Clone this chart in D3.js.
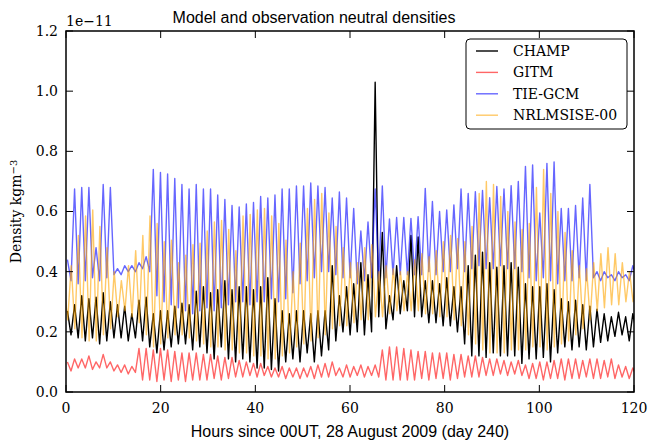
<!DOCTYPE html>
<meta charset="utf-8">
<style>
body {
    margin: 0;
    background: #fff;
}
.frame {
    fill: none;
    stroke: #000;
    stroke-width: 1.5px;
}
.tick-mark {
    stroke: #000;
    stroke-width: 1px;
}
.tick-label {
    font-family: "DejaVu Serif", serif;
    font-size: 14px;
    fill: #000;
}
.sans {
    font-family: "Liberation Sans", Arial, sans-serif;
    font-size: 16px;
    fill: #000;
}
.series {
    fill: none;
    stroke-width: 1.4px;
    stroke-linejoin: round;
}
</style>
<body>
<script src="https://d3js.org/d3.v7.min.js"></script>
<script>
const width = 649;
const height = 443;

// orbit period of the sampling (hours)
const orbitPeriod = 1.512;

const xTicks = [0, 20, 40, 60, 80, 100, 120];
const yTicks = [0.0, 0.2, 0.4, 0.6, 0.8, 1.0, 1.2];

const seriesNames = ["CHAMP", "GITM", "TIE-GCM", "NRLMSISE-00"];
const seriesColors = ["#000000", "#ff0000", "#0000ff", "#ffa500"];
const seriesOpacity = [1, 0.6, 0.6, 0.6];
const seriesPhase = [0.3, 0.3, 0.3, -0.4];

// values in units of 1e-11 kg m^-3, one peak and one trough per orbit
const champPeaks = [
    0.27, 0.29, 0.32, 0.31, 0.315, 0.33, 0.30, 0.29, 0.285, 0.26, 0.305, 0.315, 0.26, 0.27, 0.27, 0.285,
    0.295, 0.29, 0.335, 0.35, 0.33, 0.34, 0.37, 0.34, 0.35, 0.35, 0.34, 0.35, 0.38, 0.31, 0.27, 0.26,
    0.27, 0.27, 0.26, 0.27, 0.27, 0.42, 0.32, 0.35, 0.36, 0.43, 0.39, 1.03, 0.53, 0.32, 0.42, 0.37,
    0.52, 0.515, 0.37, 0.37, 0.36, 0.38, 0.35, 0.35, 0.42, 0.455, 0.465, 0.43, 0.415, 0.42, 0.43, 0.415,
    0.36, 0.35, 0.35, 0.36, 0.34, 0.31, 0.30, 0.305, 0.29, 0.285, 0.275, 0.26, 0.25, 0.265, 0.25, 0.26, 0.25
];
const champTroughs = [
    0.19, 0.18, 0.17, 0.18, 0.16, 0.17, 0.18, 0.18, 0.17, 0.18, 0.17, 0.15,
    0.13, 0.14, 0.15, 0.16,
    0.16, 0.14, 0.15, 0.13, 0.11, 0.15, 0.11, 0.10, 0.11, 0.10, 0.08, 0.08, 0.075, 0.07, 0.10, 0.11,
    0.10, 0.13, 0.10, 0.12, 0.14, 0.17, 0.20, 0.19, 0.20, 0.19, 0.20, 0.25, 0.21, 0.24, 0.26, 0.27,
    0.25, 0.25, 0.23, 0.23, 0.22, 0.22, 0.20, 0.16, 0.12, 0.12, 0.115, 0.13, 0.12, 0.12, 0.12, 0.095,
    0.11, 0.11, 0.115, 0.10, 0.13, 0.15, 0.14, 0.15, 0.14, 0.15, 0.165, 0.17, 0.185, 0.19, 0.17, 0.20, 0.20
];

const gitmPeaks = [
    0.10, 0.11, 0.11, 0.12, 0.10, 0.125, 0.10, 0.09, 0.09, 0.085, 0.145, 0.145, 0.14, 0.145, 0.14, 0.135,
    0.13, 0.13, 0.13, 0.125, 0.125, 0.12, 0.115, 0.115, 0.105, 0.10, 0.095, 0.095, 0.085, 0.08, 0.085, 0.08,
    0.08, 0.08, 0.085, 0.09, 0.095, 0.10, 0.08, 0.09, 0.085, 0.09, 0.085, 0.09, 0.14, 0.15, 0.15, 0.145,
    0.14, 0.135, 0.135, 0.13, 0.13, 0.13, 0.125, 0.125, 0.12, 0.12, 0.115, 0.11, 0.11, 0.105, 0.10, 0.105,
    0.09, 0.095, 0.10, 0.10, 0.105, 0.11, 0.11, 0.11, 0.105, 0.11, 0.11, 0.105, 0.11, 0.09, 0.085, 0.08, 0.07
];
const gitmTroughs = [
    0.07, 0.08, 0.08, 0.075, 0.08, 0.08, 0.07, 0.065, 0.06, 0.065,
    0.04, 0.04, 0.035, 0.04, 0.035, 0.04, 0.035, 0.04, 0.04, 0.04, 0.045, 0.04, 0.045, 0.05, 0.05, 0.055, 0.05, 0.055,
    0.05, 0.05, 0.045, 0.05, 0.045, 0.05, 0.045, 0.05, 0.05, 0.055, 0.05, 0.05, 0.055, 0.05, 0.055, 0.05,
    0.04, 0.04, 0.04, 0.04, 0.04, 0.045, 0.04, 0.045, 0.045, 0.04, 0.045, 0.05, 0.05, 0.05, 0.055, 0.055, 0.06, 0.055, 0.06, 0.055,
    0.045, 0.045, 0.04, 0.045, 0.045, 0.04, 0.045, 0.045, 0.05, 0.045, 0.045, 0.05, 0.045, 0.05, 0.045, 0.05, 0.05
];

const tiegcmPeaks = [
    0.44, 0.675, 0.68, 0.68, 0.48, 0.69, 0.68, 0.41, 0.42, 0.42, 0.43, 0.45, 0.74, 0.73, 0.725, 0.71,
    0.69, 0.675, 0.69, 0.675, 0.675, 0.655, 0.64, 0.62, 0.615, 0.625, 0.63, 0.65, 0.645, 0.655, 0.675, 0.675,
    0.685, 0.685, 0.695, 0.685, 0.68, 0.645, 0.665, 0.645, 0.61, 0.535, 0.565, 0.675, 0.685, 0.575, 0.58, 0.58,
    0.577, 0.583, 0.677, 0.633, 0.60, 0.605, 0.622, 0.675, 0.66, 0.666, 0.67, 0.646, 0.683, 0.675, 0.686, 0.70,
    0.75, 0.755, 0.595, 0.76, 0.765, 0.61, 0.61, 0.62, 0.645, 0.69, 0.40, 0.40, 0.39, 0.40, 0.39, 0.42, 0.40
];
const tiegcmTroughs = [
    0.37, 0.36, 0.37, 0.38, 0.37, 0.38, 0.39,
    0.39, 0.40, 0.40, 0.41, 0.40,
    0.32, 0.30, 0.29, 0.28,
    0.27, 0.26, 0.27, 0.28, 0.27, 0.28, 0.29, 0.30, 0.30, 0.29, 0.30, 0.30, 0.31, 0.30, 0.31, 0.33,
    0.36, 0.37, 0.38, 0.40, 0.40, 0.39, 0.38, 0.38, 0.36, 0.37, 0.38, 0.37, 0.38, 0.39, 0.39, 0.39,
    0.39, 0.39, 0.40, 0.39, 0.40, 0.40, 0.41, 0.40, 0.41, 0.42, 0.41, 0.41, 0.42, 0.41, 0.41, 0.40,
    0.38, 0.37, 0.38, 0.37, 0.36, 0.37, 0.37, 0.38, 0.37, 0.38,
    0.37, 0.38, 0.37, 0.38, 0.37, 0.38, 0.37
];

const nrlmsisePeaks = [
    0.35, 0.42, 0.52, 0.585, 0.605, 0.55, 0.48, 0.40, 0.37, 0.42, 0.47, 0.52, 0.585, 0.56, 0.50, 0.505,
    0.43, 0.455, 0.49, 0.495, 0.535, 0.565, 0.57, 0.54, 0.47, 0.585, 0.59, 0.605, 0.61, 0.585, 0.56, 0.505,
    0.40, 0.495, 0.61, 0.64, 0.66, 0.595, 0.55, 0.48, 0.43, 0.43, 0.48, 0.49, 0.40, 0.42, 0.41, 0.40,
    0.40, 0.44, 0.46, 0.45, 0.47, 0.50, 0.52, 0.51, 0.50, 0.55, 0.66, 0.70, 0.69, 0.65, 0.60, 0.565,
    0.54, 0.56, 0.68, 0.74, 0.66, 0.60, 0.53, 0.47, 0.42, 0.41, 0.43, 0.46, 0.48, 0.46, 0.43, 0.40, 0.38
];
const nrlmsiseTroughs = [
    0.24, 0.21, 0.18, 0.17, 0.17, 0.19, 0.21,
    0.25, 0.27, 0.25, 0.23, 0.19,
    0.15, 0.16, 0.18, 0.19,
    0.19, 0.18, 0.17, 0.16, 0.15, 0.15, 0.14, 0.14, 0.13, 0.13, 0.12, 0.12, 0.11, 0.11, 0.12, 0.13,
    0.15, 0.16, 0.17, 0.18, 0.19, 0.21, 0.22, 0.22, 0.23, 0.24, 0.24, 0.25, 0.25, 0.26, 0.27, 0.27,
    0.27, 0.27, 0.26, 0.26, 0.25, 0.25, 0.24, 0.22, 0.19, 0.16, 0.14, 0.13, 0.13, 0.13, 0.14, 0.14,
    0.14, 0.15, 0.15, 0.14, 0.15, 0.16, 0.17, 0.19, 0.21, 0.24, 0.27, 0.28, 0.29, 0.29, 0.30, 0.30, 0.30
];

const seriesPeaks = [champPeaks, gitmPeaks, tiegcmPeaks, nrlmsisePeaks];
const seriesTroughs = [champTroughs, gitmTroughs, tiegcmTroughs, nrlmsiseTroughs];

const margin = {left: 66, right: 15, top: 31, bottom: 51};
const plotW = width - margin.left - margin.right;
const plotH = height - margin.top - margin.bottom;

const x = d3.scaleLinear().domain([0, 120]).range([0, plotW]);
const y = d3.scaleLinear().domain([0, 1.2]).range([plotH, 0]);

const svg = d3.select("body").append("svg")
    .attr("width", width)
    .attr("height", height);

svg.append("defs").append("clipPath")
    .attr("id", "plot-clip")
    .append("rect")
    .attr("width", plotW)
    .attr("height", plotH);

const g = svg.append("g")
    .attr("transform", `translate(${margin.left},${margin.top})`);

// build the time series: peak then trough for every orbit
function buildPoints(i) {
    const peaks = seriesPeaks[i];
    const troughs = seriesTroughs[i];
    const n = Math.min(peaks.length, troughs.length);
    const pts = [];
    for (let k = 0; k < n; k++) {
        pts.push([seriesPhase[i] + k * orbitPeriod, peaks[k]]);
        pts.push([seriesPhase[i] + (k + 0.5) * orbitPeriod, troughs[k]]);
    }
    return pts;
}

const line = d3.line()
    .x(function(d) { return x(d[0]); })
    .y(function(d) { return y(d[1]); });

const lines = g.append("g").attr("clip-path", "url(#plot-clip)");
seriesNames.forEach(function(name, i) {
    lines.append("path")
        .attr("class", "series")
        .attr("d", line(buildPoints(i)))
        .attr("stroke", seriesColors[i])
        .attr("stroke-opacity", seriesOpacity[i]);
});

// ticks pointing inwards on all four sides
const tickLen = 7;
xTicks.forEach(function(t) {
    g.append("line").attr("class", "tick-mark")
        .attr("x1", x(t)).attr("x2", x(t))
        .attr("y1", plotH).attr("y2", plotH - tickLen);
    g.append("line").attr("class", "tick-mark")
        .attr("x1", x(t)).attr("x2", x(t))
        .attr("y1", 0).attr("y2", tickLen);
    g.append("text").attr("class", "tick-label")
        .attr("x", x(t))
        .attr("y", plotH + 21)
        .attr("text-anchor", "middle")
        .text(t);
});
yTicks.forEach(function(t) {
    g.append("line").attr("class", "tick-mark")
        .attr("x1", 0).attr("x2", tickLen)
        .attr("y1", y(t)).attr("y2", y(t));
    g.append("line").attr("class", "tick-mark")
        .attr("x1", plotW).attr("x2", plotW - tickLen)
        .attr("y1", y(t)).attr("y2", y(t));
    g.append("text").attr("class", "tick-label")
        .attr("x", -8)
        .attr("y", y(t))
        .attr("dy", "0.35em")
        .attr("text-anchor", "end")
        .text(t.toFixed(1));
});

g.append("rect")
    .attr("class", "frame")
    .attr("width", plotW)
    .attr("height", plotH);

g.append("text").attr("class", "tick-label")
    .attr("x", 0)
    .attr("y", -5)
    .text("1e\u221211");

svg.append("text").attr("class", "sans")
    .attr("x", 314)
    .attr("y", 23)
    .attr("text-anchor", "middle")
    .text("Model and observation neutral densities");

svg.append("text").attr("class", "sans")
    .attr("x", margin.left + plotW / 2)
    .attr("y", 437)
    .attr("text-anchor", "middle")
    .text("Hours since 00UT, 28 August 2009 (day 240)");

const ylab = svg.append("text").attr("class", "tick-label")
    .attr("transform", `translate(21,${margin.top + plotH / 2}) rotate(-90)`)
    .attr("text-anchor", "middle");
ylab.append("tspan").text("Density kgm");
ylab.append("tspan").attr("dy", "-0.45em").attr("font-size", "10px").text("\u22123");

// legend
const legend = svg.append("g").attr("transform", "translate(466,39)");
legend.append("rect")
    .attr("width", 161)
    .attr("height", 90)
    .attr("rx", 4)
    .attr("fill", "#fff")
    .attr("stroke", "#000")
    .attr("stroke-width", 1);
seriesNames.forEach(function(name, i) {
    const ly = 12 + i * 21.4;
    legend.append("line")
        .attr("x1", 10).attr("x2", 32)
        .attr("y1", ly).attr("y2", ly)
        .attr("stroke", seriesColors[i])
        .attr("stroke-opacity", seriesOpacity[i])
        .attr("stroke-width", 1.4);
    legend.append("text").attr("class", "tick-label")
        .attr("x", 47)
        .attr("y", ly)
        .attr("dy", "0.35em")
        .text(name);
});
</script>
